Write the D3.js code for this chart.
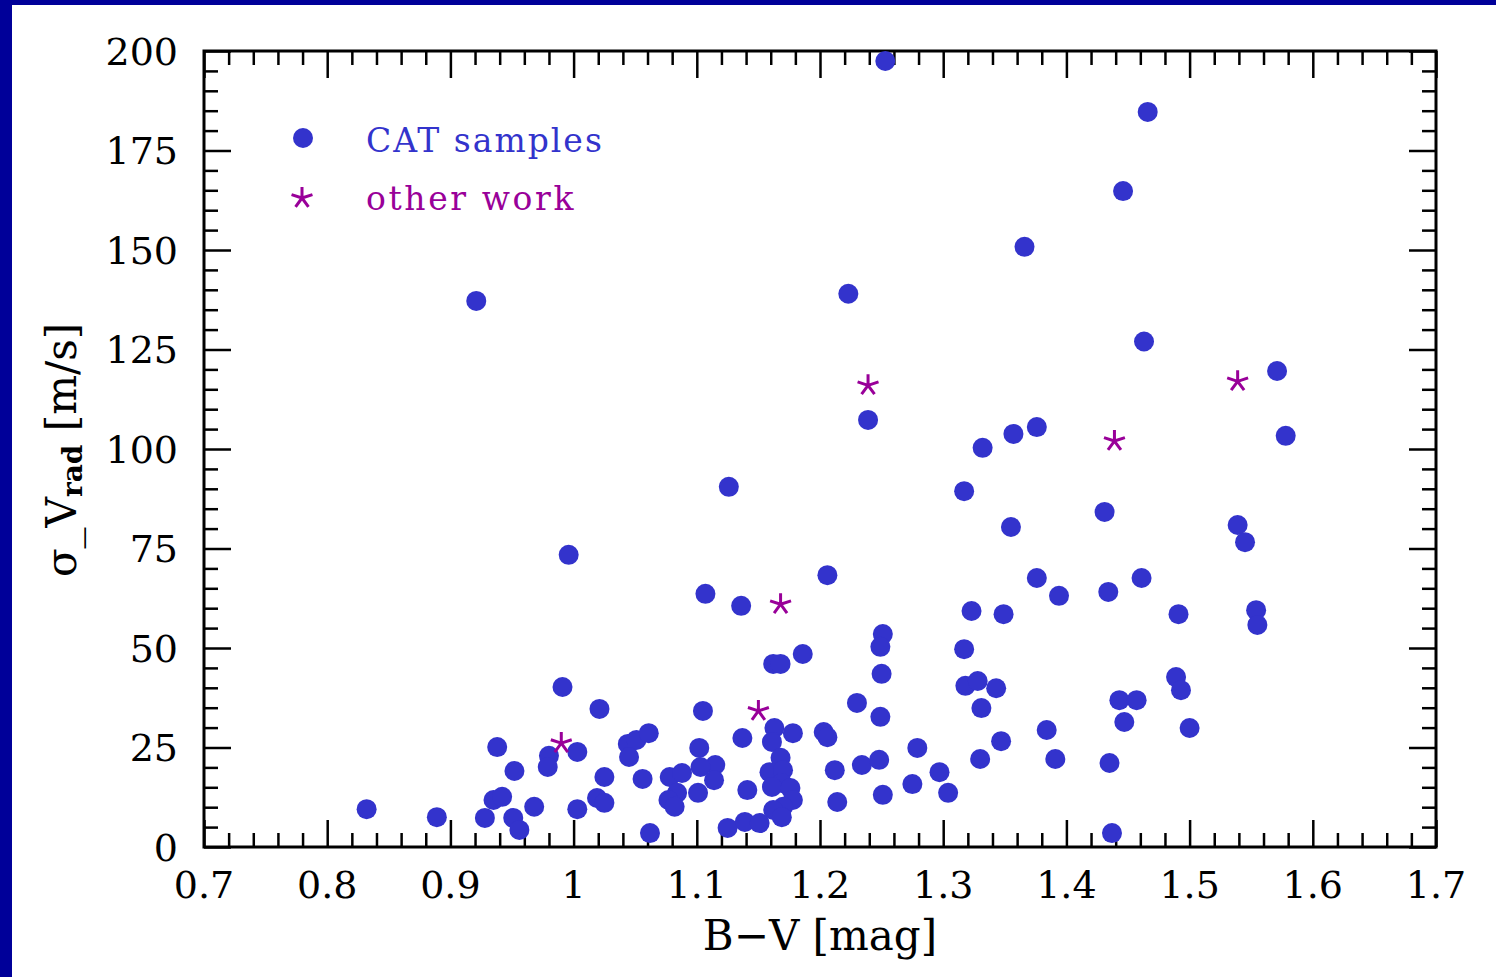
<!DOCTYPE html>
<html>
<head>
<meta charset="utf-8">
<script src="https://cdn.jsdelivr.net/npm/d3@7"></script>
<style>
  body { margin: 0; background: #fff; }
  svg { display: block; }
</style>
</head>
<body>
<div id="chart"></div>
<script>
// CAT samples: [B-V, sigma]
const catBV = [
  0.832, 0.889, 0.921, 0.928, 0.935, 0.942, 0.938, 0.952, 0.951, 0.956,
  0.968, 0.980, 0.979, 0.991, 0.996, 1.003, 1.003, 1.019, 1.025, 1.021,
  1.025, 1.044, 1.051, 1.045, 1.061, 1.056, 1.062,
  1.105, 1.162, 1.168, 1.186, 1.137, 1.102, 1.115, 1.103, 1.078, 1.088,
  1.114, 1.101, 1.084, 1.077, 1.082, 1.125, 1.141, 1.139, 1.151,
  1.126, 1.107, 1.136,
  1.163, 1.178, 1.203, 1.206, 1.161, 1.168, 1.159, 1.170, 1.169, 1.161,
  1.176, 1.178, 1.170, 1.162, 1.169, 1.212, 1.234, 1.214, 1.230,
  1.251, 1.249, 1.250, 1.249, 1.317, 1.318, 1.328, 1.343, 1.331, 1.347,
  1.330, 1.279, 1.248, 1.251, 1.275, 1.297, 1.304,
  1.323, 1.349, 1.435, 1.443, 1.457, 1.447, 1.384, 1.391, 1.437,
  1.491, 1.554, 1.555, 1.489, 1.493, 1.500,
  1.253, 1.466, 1.446, 1.366, 1.223, 1.463, 1.571, 1.578, 1.239, 1.376,
  1.357, 1.332, 1.317, 1.431, 1.355, 1.539, 1.545, 1.206, 1.376, 1.461,
  1.434, 1.394
];
const catSigma = [
  9.5, 7.5, 137.2, 7.3, 11.8, 12.6, 25.1, 19.1, 7.3, 4.3,
  10.1, 22.9, 20.1, 40.2, 73.4, 23.9, 9.5, 12.3, 11.1, 34.7,
  17.6, 25.9, 26.9, 22.6, 28.6, 17.1, 3.5,
  34.2, 46.0, 46.0, 48.5, 27.4, 24.9, 20.6, 20.1, 17.6, 18.6,
  16.8, 13.6, 13.6, 11.8, 10.1, 4.8, 14.3, 6.3, 6.0,
  90.5, 63.6, 60.6,
  29.9, 28.6, 28.9, 27.6, 26.4, 22.4, 18.8, 19.3, 16.1, 15.1,
  14.8, 11.8, 10.1, 9.3, 7.5, 19.3, 20.6, 11.3, 36.2,
  53.5, 50.3, 43.5, 32.7, 49.7, 40.5, 41.7, 39.9, 34.9, 26.6,
  22.1, 24.9, 21.9, 13.1, 15.8, 18.8, 13.6,
  59.3, 58.5, 21.1, 36.9, 36.9, 31.4, 29.4, 22.1, 3.5,
  58.5, 59.5, 55.8, 42.7, 39.4, 29.9,
  197.5, 184.7, 164.8, 150.8, 139.0, 127.0, 119.6, 103.3, 107.3, 105.5,
  103.8, 100.3, 89.4, 84.2, 80.4, 80.9, 76.6, 68.3, 67.6, 67.6,
  64.1, 63.1
];
// other work
const otherBV = [1.239, 1.539, 1.439, 1.168, 1.150, 0.990];
const otherSigma = [116.0, 117.0, 102.0, 61.0, 34.2, 26.1];

const xMajor = [0.7, 0.8, 0.9, 1.0, 1.1, 1.2, 1.3, 1.4, 1.5, 1.6, 1.7];
const xMajorLabels = ["0.7", "0.8", "0.9", "1", "1.1", "1.2", "1.3", "1.4", "1.5", "1.6", "1.7"];
const yMajor = [0, 25, 50, 75, 100, 125, 150, 175, 200];
const yMajorLabels = ["0", "25", "50", "75", "100", "125", "150", "175", "200"];

const W = 1496, H = 977;
const blue = "#3333cc", purple = "#990099", frameBlue = "#000099";
const font = "'DejaVu Serif', serif";

const svg = d3.select("#chart").append("svg")
  .attr("width", W).attr("height", H)
  .attr("font-family", font);

svg.append("rect").attr("width", W).attr("height", H).attr("fill", "#fff");
svg.append("rect").attr("x", 0).attr("y", 0).attr("width", 12).attr("height", H).attr("fill", frameBlue);
svg.append("rect").attr("x", 0).attr("y", 0).attr("width", W).attr("height", 5).attr("fill", frameBlue);

const x = d3.scaleLinear().domain([0.7, 1.7]).range([204, 1436]);
const y = d3.scaleLinear().domain([0, 200]).range([847, 51]);

const xMinor = d3.range(0.72, 1.7, 0.02).filter(v => Math.abs(v * 10 - Math.round(v * 10)) > 1e-6);
const yMinor = d3.range(5, 200, 5).filter(v => v % 25 !== 0);

const majorLen = 27, minorLen = 14;

function styleAxis(g) {
  g.select(".domain").remove();
  g.selectAll(".tick line").attr("stroke", "#000").attr("stroke-width", 2.5);
  g.selectAll(".tick text").remove();
}

// inward ticks on all four sides
[[xMajor, majorLen], [xMinor, minorLen]].forEach(([vals, len]) => {
  svg.append("g").attr("transform", `translate(0,${y(0)})`)
    .call(d3.axisBottom(x).tickValues(vals).tickSize(-len)).call(styleAxis);
  svg.append("g").attr("transform", `translate(0,${y(200)})`)
    .call(d3.axisTop(x).tickValues(vals).tickSize(-len)).call(styleAxis);
});
[[yMajor, majorLen], [yMinor, minorLen]].forEach(([vals, len]) => {
  svg.append("g").attr("transform", `translate(${x(0.7)},0)`)
    .call(d3.axisLeft(y).tickValues(vals).tickSize(-len)).call(styleAxis);
  svg.append("g").attr("transform", `translate(${x(1.7)},0)`)
    .call(d3.axisRight(y).tickValues(vals).tickSize(-len)).call(styleAxis);
});

svg.append("rect")
  .attr("x", x(0.7)).attr("y", y(200))
  .attr("width", x(1.7) - x(0.7)).attr("height", y(0) - y(200))
  .attr("fill", "none").attr("stroke", "#000").attr("stroke-width", 3);

// tick labels
svg.append("g").selectAll("text").data(xMajor).join("text")
  .attr("x", d => x(d)).attr("y", 898)
  .attr("text-anchor", "middle").attr("font-size", 38)
  .text((d, i) => xMajorLabels[i]);
svg.append("g").selectAll("text").data(yMajor).join("text")
  .attr("x", 178).attr("y", d => y(d)).attr("dy", "0.36em")
  .attr("text-anchor", "end").attr("font-size", 38)
  .text((d, i) => yMajorLabels[i]);

// axis titles
svg.append("text")
  .attr("x", 820).attr("y", 950)
  .attr("text-anchor", "middle").attr("font-size", 42)
  .text("B\u2212V [mag]");

const yl = svg.append("text")
  .attr("transform", "translate(76,450) rotate(-90)")
  .attr("text-anchor", "middle").attr("font-size", 42);
yl.append("tspan").text("\u03c3_V");
yl.append("tspan").attr("font-size", 28).attr("font-weight", "bold").attr("dy", 6).text("rad");
yl.append("tspan").attr("dy", -6).text(" [m/s]");

// star path: 5-armed asterisk
function starPath(r) {
  let p = "";
  for (let k = 0; k < 5; k++) {
    const a = -Math.PI / 2 + k * 2 * Math.PI / 5;
    p += `M0,0L${(r * Math.cos(a)).toFixed(2)},${(r * Math.sin(a)).toFixed(2)}`;
  }
  return p;
}

// data points
svg.append("g").selectAll("circle").data(catBV).join("circle")
  .attr("cx", d => x(d)).attr("cy", (d, i) => y(catSigma[i]))
  .attr("r", 10).attr("fill", blue);

svg.append("g").selectAll("path").data(otherBV).join("path")
  .attr("transform", (d, i) => `translate(${x(d)},${y(otherSigma[i])})`)
  .attr("d", starPath(11)).attr("fill", "none")
  .attr("stroke", purple).attr("stroke-width", 3);

// legend
svg.append("circle").attr("cx", 303).attr("cy", 138).attr("r", 10).attr("fill", blue);
svg.append("text").attr("x", 366).attr("y", 152).attr("font-size", 33)
  .attr("letter-spacing", 2).attr("fill", blue).text("CAT samples");
svg.append("path").attr("transform", "translate(302,198)").attr("d", starPath(11))
  .attr("fill", "none").attr("stroke", purple).attr("stroke-width", 3);
svg.append("text").attr("x", 366).attr("y", 210).attr("font-size", 33)
  .attr("letter-spacing", 2.6).attr("fill", purple).text("other work");
</script>
</body>
</html>
